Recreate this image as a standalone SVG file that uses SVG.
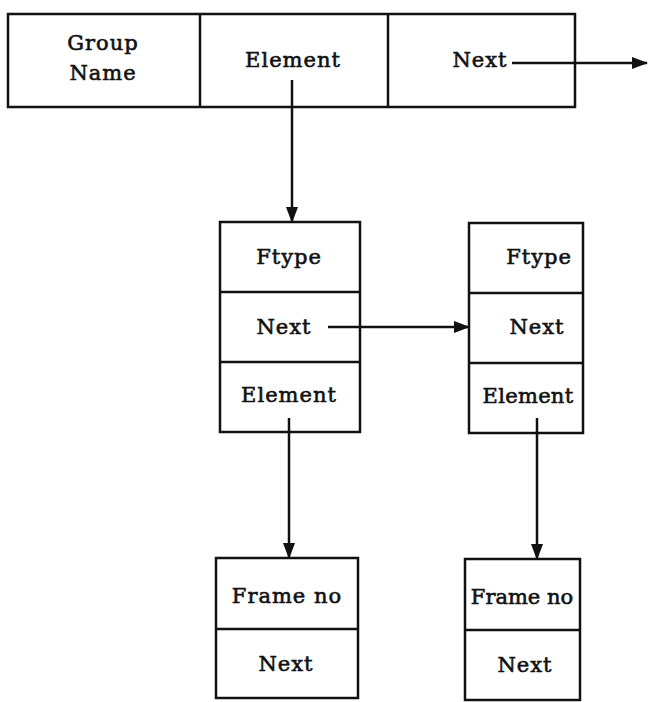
<svg xmlns="http://www.w3.org/2000/svg" width="652" height="702" viewBox="0 0 652 702">
<style>
  .box{fill:#fff;stroke:#111;stroke-width:2.5}
  .div{stroke:#111;stroke-width:2.5}
  .t{font-family:"DejaVu Serif","Liberation Serif",serif;font-size:21px;fill:#111;stroke:#111;stroke-width:0.6;text-anchor:middle;letter-spacing:1px}
  .c{stroke:#111;stroke-width:2.5;fill:none;marker-end:url(#ah)}
</style>
<defs>
  <marker id="ah" markerWidth="16" markerHeight="12" refX="15" refY="6" orient="auto" markerUnits="userSpaceOnUse">
    <path d="M0,0 L16,6 L0,12 Z" fill="#111"/>
  </marker>
</defs>
<rect width="652" height="702" fill="#fff"/>
<g id="group-record">
  <rect class="box" x="8" y="14" width="567" height="93"/>
  <line class="div" x1="200" y1="14" x2="200" y2="107"/>
  <line class="div" x1="388" y1="14" x2="388" y2="107"/>
  <text class="t" x="103" y="50">Group</text>
  <text class="t" x="103" y="80">Name</text>
  <text class="t" x="293" y="67">Element</text>
  <text class="t" x="480" y="67">Next</text>
</g>
<g id="ftype1">
  <rect class="box" x="220" y="222" width="140" height="210"/>
  <line class="div" x1="220" y1="292" x2="360" y2="292"/>
  <line class="div" x1="220" y1="362" x2="360" y2="362"/>
  <text class="t" x="289" y="264">Ftype</text>
  <text class="t" x="284" y="334">Next</text>
  <text class="t" x="289" y="402">Element</text>
</g>
<g id="ftype2">
  <rect class="box" x="469" y="223" width="114" height="210"/>
  <line class="div" x1="469" y1="293" x2="583" y2="293"/>
  <line class="div" x1="469" y1="363" x2="583" y2="363"/>
  <text class="t" x="539" y="264">Ftype</text>
  <text class="t" x="537" y="334">Next</text>
  <text class="t" x="528" y="403" style="letter-spacing:0.3px">Element</text>
</g>
<g id="frame1">
  <rect class="box" x="216" y="558" width="142" height="140"/>
  <line class="div" x1="216" y1="629" x2="358" y2="629"/>
  <text class="t" x="287" y="603">Frame no</text>
  <text class="t" x="286" y="671">Next</text>
</g>
<g id="frame2">
  <rect class="box" x="465" y="559" width="115" height="141"/>
  <line class="div" x1="465" y1="630" x2="580" y2="630"/>
  <text class="t" x="522" y="604" style="letter-spacing:0">Frame no</text>
  <text class="t" x="525" y="672">Next</text>
</g>
<g id="connectors">
  <line class="c" x1="512" y1="63" x2="647" y2="63"/>
  <line class="c" x1="292" y1="80" x2="292" y2="222"/>
  <line class="c" x1="328" y1="327" x2="469" y2="327"/>
  <line class="c" x1="289" y1="418" x2="289" y2="558"/>
  <line class="c" x1="537" y1="418" x2="537" y2="559"/>
</g>
</svg>
